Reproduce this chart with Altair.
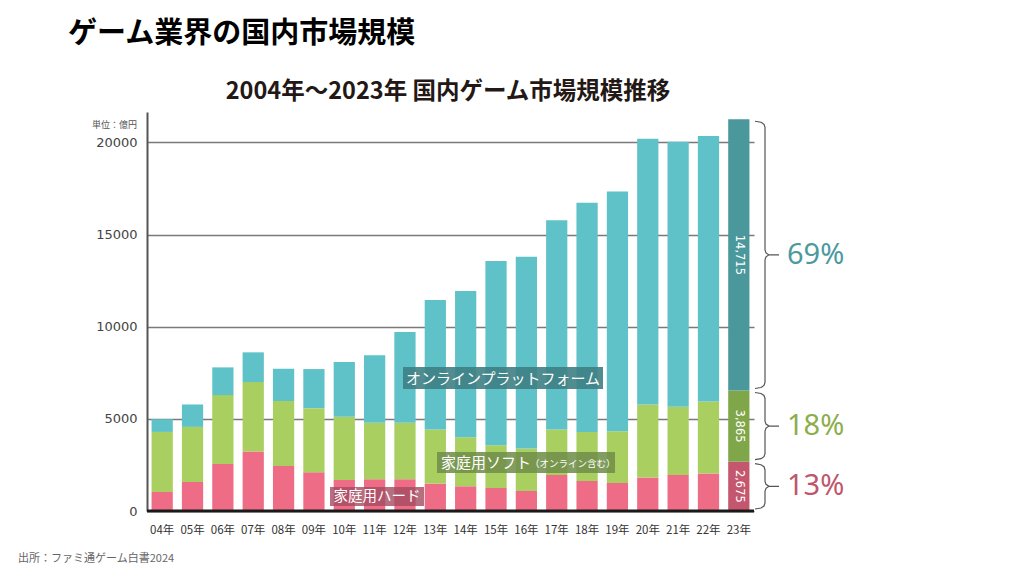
import altair as alt
import pandas as pd

# ---------------- data (億円) ----------------
years = ["04年", "05年", "06年", "07年", "08年", "09年", "10年", "11年", "12年", "13年",
         "14年", "15年", "16年", "17年", "18年", "19年", "20年", "21年", "22年", "23年"]
hardware = [1030, 1576, 2554, 3228, 2446, 2103, 1685, 1723, 1723, 1489,
            1342, 1250, 1087, 1957, 1630, 1522, 1815, 1957, 2033, 2675]
software = [3260, 2989, 3734, 3767, 3516, 3479, 3424, 3060, 3060, 2935,
            2658, 2321, 2304, 2467, 2663, 2810, 3968, 3695, 3913, 3865]
online = [690, 1215, 1505, 1614, 1755, 2119, 2973, 3663, 4929, 7026,
          7940, 9999, 10399, 11353, 12430, 13005, 14418, 14386, 14402, 14715]
y_ticks = [0, 5000, 10000, 15000, 20000]

W, H = 607, 399
YMAX = 21650
PX = YMAX / H  # data units per pixel

JP = "Noto Sans CJK JP"

rows = []
for i, y in enumerate(years):
    suffix = "23" if y == "23年" else ""
    for ordv, (cat, vals) in enumerate([("hw", hardware), ("sw", software), ("on", online)]):
        rows.append({"year": y, "cat": cat + suffix, "ord": ordv, "value": vals[i]})
df = pd.DataFrame(rows)

yscale = alt.Scale(domain=[0, YMAX], nice=False)
yaxis = alt.Axis(values=y_ticks, format="d", ticks=False, domainColor="#555555",
                 domainWidth=2, gridColor="#7a7a7a", gridWidth=1.3,
                 labelFont="DejaVu Sans", labelFontSize=13, labelColor="#444444",
                 labelPadding=10, title=None)
cscale = alt.Scale(domain=["hw", "sw", "on", "hw23", "sw23", "on23", "pon", "psw", "phw"],
                   range=["#EE6C85", "#A8CF5F", "#5FC2C8",
                          "#C4576E", "#80A64A", "#4A989C",
                          "#4A9A9E", "#8BAE4B", "#C0566B"])

bars = alt.Chart(df).mark_bar().encode(
    x=alt.X("year:N", sort=years, title=None,
            scale=alt.Scale(paddingInner=0.3, paddingOuter=0.15),
            axis=alt.Axis(labelAngle=0, ticks=False, domain=False, labelPadding=13,
                          labelFont=JP, labelFontSize=11.5, labelColor="#333333")),
    y=alt.Y("value:Q", stack="zero", scale=yscale, axis=yaxis),
    color=alt.Color("cat:N", legend=None, scale=cscale),
    order=alt.Order("ord:Q", sort="ascending"),
)

baseline = alt.Chart(pd.DataFrame({"v": [0]})).mark_rule(color="#1a1a1a", strokeWidth=3).encode(
    y=alt.Y("v:Q", scale=yscale, axis=yaxis)
)

# value labels inside the 2023 bar
last = len(years) - 1
h23, s23, o23 = hardware[last], software[last], online[last]
total23 = h23 + s23 + o23
seg = pd.DataFrame({
    "year": [years[last]] * 3,
    "mid": [h23 / 2, h23 + s23 / 2, h23 + s23 + o23 / 2],
    "label": [f"{h23:,}", f"{s23:,}", f"{o23:,}"],
})
seg_text = alt.Chart(seg).mark_text(angle=90, color="white", font="DejaVu Sans", fontSize=11.5,
                                    baseline="middle", align="center").encode(
    x=alt.X("year:N", sort=years),
    y=alt.Y("mid:Q", scale=yscale, axis=yaxis),
    text="label:N",
)

# braces to the right of the 2023 bar
bounds = [(h23 + s23 + o23, h23 + s23), (h23 + s23, h23), (h23, 0)]
brows = []
for k, (top, bot) in enumerate(bounds):
    T = top - 2 * PX
    B = bot + 2 * PX
    M = (T + B) / 2
    pts = [(608, T), (614, T - 1 * PX), (617, T - 3 * PX), (618, T - 6 * PX),
           (618, M + 5 * PX), (619, M + 2 * PX), (622, M), (632, M), (622, M),
           (619, M - 2 * PX), (618, M - 5 * PX), (618, B + 6 * PX), (617, B + 3 * PX),
           (614, B + 1 * PX), (608, B)]
    for j, (px, yv) in enumerate(pts):
        brows.append({"b": k, "i": j, "px": px, "y": yv})
braces = alt.Chart(pd.DataFrame(brows)).mark_line(color="#555555", strokeWidth=1.2).encode(
    x=alt.X("px:Q", scale=None),
    y=alt.Y("y:Q", scale=yscale, axis=yaxis),
    detail="b:N",
    order="i:Q",
)

pct = pd.DataFrame({
    "mid": [(b[0] + b[1]) / 2 for b in bounds],
    "label": [f"{round(v / total23 * 100)}%" for v in (o23, s23, h23)],
    "c": ["pon", "psw", "phw"],
})
pct_text = alt.Chart(pct).mark_text(align="left", baseline="middle", font="Noto Sans",
                                    fontSize=29).encode(
    x=alt.value(640),
    y=alt.Y("mid:Q", scale=yscale, axis=yaxis),
    text="label:N",
    color=alt.Color("c:N", legend=None, scale=cscale),
)

# in-chart category labels (boxes)
def box(x1, x2, y1, y2, fill, op):
    return alt.Chart(pd.DataFrame({"a": [0]})).mark_rect(fill=fill, opacity=op).encode(
        x=alt.value(x1), x2=alt.value(x2), y=alt.value(y1), y2=alt.value(y2))

def txt(s, x, y, size, align="center", color="white", font=JP, weight="normal"):
    return alt.Chart(pd.DataFrame({"t": [s]})).mark_text(
        align=align, baseline="middle", font=font, fontSize=size, color=color,
        fontWeight=weight).encode(x=alt.value(x), y=alt.value(y), text="t:N")

labels = [
    box(256, 456, 255, 277, "#3E7F84", 0.9),
    txt("オンラインプラットフォーム", 356, 266.5, 15),
    box(290, 468, 340, 361, "#71904A", 0.88),
    txt("家庭用ソフト", 294, 351, 15, align="left"),
    txt("（オンライン含む）", 383, 351.5, 9.5, align="left"),
    box(183, 277, 375, 394, "#A34B60", 0.8),
    txt("家庭用ハード", 230, 385, 14.5),
]

titles = [
    txt("ゲーム業界の国内市場規模", -79, -78, 29, align="left", color="#000000", weight="bold"),
    txt("2004年～2023年 国内ゲーム市場規模推移", 301, -20, 23.5, color="#231815", weight="bold"),
    txt("単位：億円", -10, 13, 9, align="right", color="#555555"),
    txt("出所：ファミ通ゲーム白書2024", -129, 447, 11, align="left", color="#666666"),
]

chart = alt.layer(bars, baseline, seg_text, braces, pct_text, *labels, *titles).properties(
    width=W, height=H,
    padding={"left": 147, "top": 112, "right": 1024 - 147 - W, "bottom": 576 - 112 - H},
    autosize=alt.AutoSizeParams(type="none"),
    background="white",
).configure_view(stroke=None)

chart.save("out.html", embed_options={"renderer": "svg", "actions": False})
